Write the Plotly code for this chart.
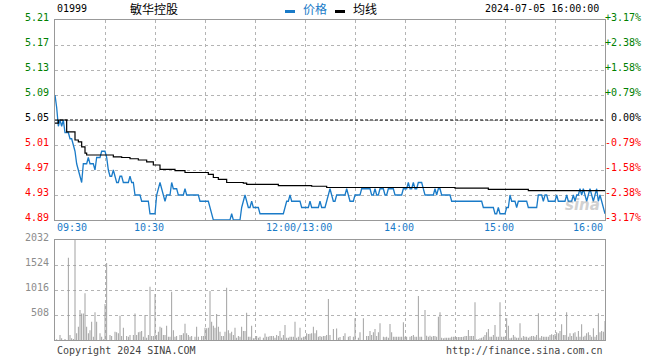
import plotly.graph_objects as go

# ---------------- data ----------------
stock_code = "01999"
stock_name = "敏华控股"
timestamp = "2024-07-05 16:00:00"
prev_close = 5.05

price_ticks = [5.21, 5.17, 5.13, 5.09, 5.05, 5.01, 4.97, 4.93, 4.89]
pct_labels = ["+3.17%", "+2.38%", "+1.58%", "+0.79%", "0.00%", "-0.79%", "-1.58%", "-2.38%", "-3.17%"]
vol_ticks = [2032, 1524, 1016, 508]
time_grid = [0, 30, 60, 90, 120, 150, 180, 210, 240, 270, 300, 330]
time_label_pos = [0, 60, 150, 210, 270, 330]
time_labels = ["09:30", "10:30", "12:00/13:00", "14:00", "15:00", "16:00"]

# one price per trading minute (09:30 .. 12:00, 13:00 .. 16:00)
price = [
    5.09, 5.07, 5.04, 5.05, 5.04, 5.05, 5.03, 5.03, 5.03, 5.02,
    5.02, 5.01, 5.00, 4.98, 4.97, 4.96, 4.95, 4.98, 4.98, 4.98,
    4.99, 4.98, 4.98, 4.98, 4.97, 4.99, 4.99, 4.99, 5.00, 5.00,
    5.00, 4.99, 4.97, 4.96, 4.96, 4.97, 4.96, 4.95, 4.95, 4.96,
    4.96, 4.95, 4.95, 4.95, 4.95, 4.96, 4.95, 4.95, 4.93, 4.93,
    4.93, 4.93, 4.92, 4.92, 4.92, 4.92, 4.92, 4.90, 4.90, 4.90,
    4.90, 4.93, 4.94, 4.95, 4.94, 4.93, 4.92, 4.93, 4.93, 4.93,
    4.95, 4.94, 4.94, 4.94, 4.93, 4.93, 4.93, 4.93, 4.94, 4.93,
    4.93, 4.93, 4.93, 4.93, 4.93, 4.93, 4.93, 4.92, 4.92, 4.92,
    4.92, 4.92, 4.92, 4.91, 4.90, 4.89, 4.89, 4.89, 4.89, 4.89,
    4.89, 4.89, 4.89, 4.89, 4.89, 4.89, 4.90, 4.89, 4.89, 4.89,
    4.89, 4.89, 4.91, 4.92, 4.93, 4.92, 4.91, 4.91, 4.92, 4.91,
    4.91, 4.91, 4.91, 4.90, 4.90, 4.90, 4.90, 4.90, 4.90, 4.90,
    4.90, 4.90, 4.90, 4.90, 4.90, 4.90, 4.90, 4.90, 4.91, 4.92,
    4.92, 4.93, 4.92, 4.92, 4.92, 4.92, 4.92, 4.92, 4.91, 4.91,
    4.91, 4.91, 4.91, 4.92, 4.91, 4.91, 4.91, 4.91, 4.91, 4.92,
    4.91, 4.91, 4.91, 4.92, 4.93, 4.94, 4.93, 4.92, 4.92, 4.93,
    4.93, 4.93, 4.93, 4.93, 4.93, 4.94, 4.93, 4.92, 4.92, 4.92,
    4.93, 4.93, 4.93, 4.93, 4.94, 4.94, 4.94, 4.94, 4.94, 4.94,
    4.93, 4.93, 4.94, 4.93, 4.93, 4.94, 4.94, 4.94, 4.93, 4.93,
    4.94, 4.94, 4.94, 4.94, 4.93, 4.93, 4.93, 4.93, 4.93, 4.94,
    4.94, 4.94, 4.95, 4.94, 4.94, 4.95, 4.94, 4.94, 4.95, 4.95,
    4.95, 4.94, 4.93, 4.93, 4.93, 4.93, 4.93, 4.93, 4.94, 4.93,
    4.94, 4.94, 4.93, 4.93, 4.93, 4.93, 4.93, 4.93, 4.92, 4.92,
    4.92, 4.92, 4.92, 4.92, 4.92, 4.92, 4.92, 4.92, 4.92, 4.92,
    4.92, 4.92, 4.92, 4.92, 4.92, 4.92, 4.92, 4.91, 4.91, 4.91,
    4.91, 4.91, 4.91, 4.91, 4.90, 4.90, 4.91, 4.90, 4.90, 4.90,
    4.90, 4.91, 4.91, 4.93, 4.92, 4.92, 4.92, 4.91, 4.92, 4.92,
    4.92, 4.92, 4.92, 4.92, 4.91, 4.91, 4.91, 4.91, 4.91, 4.91,
    4.93, 4.93, 4.93, 4.92, 4.93, 4.93, 4.92, 4.92, 4.92, 4.92,
    4.92, 4.93, 4.92, 4.92, 4.92, 4.92, 4.92, 4.93, 4.92, 4.92,
    4.92, 4.93, 4.92, 4.93, 4.93, 4.94, 4.93, 4.94, 4.93, 4.92,
    4.93, 4.94, 4.93, 4.92, 4.93, 4.94, 4.92, 4.93, 4.92, 4.91,
    4.90,
]
minutes = list(range(len(price)))

# average price line (minute, value) at the points where it changes
avg_minutes = [0, 2, 6, 7, 11, 12, 14, 16, 18, 19, 29, 35, 40, 45, 50, 55, 59, 63,
               72, 78, 89, 92, 95, 98, 103, 113, 115, 134, 154, 163, 240, 260, 284, 330]
avg_values = [5.045, 5.05, 5.05, 5.031, 5.031, 5.018, 5.015, 5.007, 4.997, 4.994, 4.994,
              4.991, 4.990, 4.988, 4.986, 4.983, 4.978, 4.971, 4.969, 4.966, 4.966, 4.963,
              4.958, 4.955, 4.950, 4.949, 4.947, 4.945, 4.944, 4.942, 4.941, 4.939, 4.937, 4.937]

# volume bars (minute, lots)
vol_minutes = [
    1, 3, 4, 6, 8, 9, 10, 11, 12, 13, 14, 15, 16, 17, 18, 19, 20, 21, 22, 23, 24, 25, 27, 28, 29,
    30, 31, 33, 34, 36, 37, 38, 39, 40, 41, 43, 44, 45, 47, 48, 49, 50, 51, 52, 53, 54, 55, 56,
    57, 58, 59, 60, 61, 62, 63, 64, 65, 66, 67, 68, 69, 70, 71, 72, 73, 75, 76, 77, 78, 79, 80,
    81, 82, 84, 85, 86, 88, 89, 90, 91, 92, 93, 94, 95, 96, 97, 98, 99, 100, 101, 102, 103, 104,
    105, 106, 107, 108, 109, 110, 111, 112, 113, 114, 115, 116, 117, 118, 119, 120, 121, 122,
    123, 125, 126, 127, 128, 129, 130, 131, 132, 133, 134, 135, 136, 137, 138, 139, 140, 141,
    142, 143, 144, 145, 146, 147, 148, 149, 150, 151, 152, 153, 154, 155, 156, 157, 158, 159,
    160, 161, 162, 163, 164, 165,
    167, 169, 170, 171, 173, 174, 176, 177, 179, 180, 182, 183, 185, 187, 188, 189, 190, 191,
    192, 193, 194, 195, 197, 198, 199, 200, 201, 202, 203, 204, 205, 206, 207, 208, 209, 210,
    211, 213, 214, 215, 216, 217, 218, 219, 220, 222, 223, 224, 225, 226, 227, 228, 229, 230,
    231, 232, 233, 234, 235, 236, 237, 238, 239, 240, 241, 242, 243, 244, 245, 246, 247, 248,
    249, 250, 251, 252, 253, 254, 255, 256, 257, 258, 259, 260, 261, 262, 263, 264, 265, 266,
    267, 268, 269, 270, 271, 272, 273, 274, 275, 276, 277, 278, 279, 280, 281, 282, 283, 284,
    285, 286, 287, 288, 289, 290, 291, 292, 293, 294, 295, 296, 297, 298, 299, 300, 301, 302,
    303, 304, 305, 306, 307, 308, 309, 310, 311, 312, 313, 314, 315, 316, 317, 318, 319, 320,
    321, 322, 323, 324, 325, 326, 327, 328, 329, 330,
]
vol_values = [
    14, 100, 34, 20, 1673, 100, 34, 20, 2032, 135, 270, 610, 540, 540, 948, 270, 135, 200, 372, 68, 562, 372, 135, 68, 14,
    731, 1565, 102, 81, 169, 155, 135, 494, 81, 250, 81, 68, 102, 102, 540, 102, 155, 169, 183, 68, 508, 47, 102,
    1084, 81, 81, 935, 102, 169, 270, 250, 102, 102, 290, 68, 68, 982, 200, 68, 81, 102, 102, 135, 330, 135, 102,
    68, 81, 68, 270, 68, 81, 81, 250, 237, 250, 995, 372, 290, 250, 528, 270, 169, 81, 81, 169, 1064, 200,
    135, 169, 102, 250, 47, 81, 68, 270, 183, 183, 555, 68, 68, 290, 34, 34, 81, 47,
    68, 47, 130, 68, 68, 81, 81, 81, 47, 102, 81, 183, 47, 102, 305, 47, 47, 68,
    68, 68, 372, 47, 68, 250, 47, 68, 68, 135, 122, 128, 135, 270, 135, 196, 68, 81,
    68, 81, 81, 102, 833, 102,
    224, 234, 47, 61, 81, 135, 68, 81, 68, 440, 47, 155, 440, 81, 81, 183, 102, 155,
    224, 81, 155, 338, 68, 54, 68, 47, 325, 155, 68, 68, 68, 68, 68, 68, 359, 68,
    68, 68, 81, 102, 68, 68, 894, 68, 68, 610, 88, 68, 88, 68, 81, 81, 68, 474,
    562, 47, 34, 47, 47, 47, 47, 68, 68, 68, 61, 61, 61, 61, 68, 81, 81, 203,
    81, 81, 81, 766, 14, 14, 34, 47, 68, 102, 155, 224, 68, 68, 102, 305, 68, 68,
    766, 68, 68, 68, 440, 291, 34, 47, 102, 68, 47, 47, 338, 47, 81, 68, 68, 47,
    68, 81, 81, 68, 102, 542, 47, 81, 68, 68, 68, 68, 102, 115, 102, 122, 155, 135,
    183, 318, 102, 102, 562, 68, 135, 81, 135, 155, 68, 183, 68, 318, 68, 88, 135, 155,
    102, 68, 237, 68, 102, 542, 155, 183, 169, 386,
]

# ---------------- styling ----------------
BLUE = "#1a7bc8"
GREEN = "#008000"
RED = "#ff0000"
GRID = "#b4b4b4"
FRAME = "#999999"
MONO = "DejaVu Sans Mono"
CJK = "Noto Sans CJK SC"

# pixel geometry helpers (plot area = 55..605 x, 20..340 y)
L, R, T, B = 55, 605, 20, 340
def px(xp):
    return (xp - L) / (R - L)
def py(yp):
    return (B - yp) / (B - T)

fig = go.Figure()
fig.add_trace(go.Scatter(x=minutes, y=price, mode="lines",
                         line=dict(color=BLUE, width=1.3), xaxis="x", yaxis="y",
                         hoverinfo="skip"))
fig.add_trace(go.Scatter(x=avg_minutes, y=avg_values, mode="lines",
                         line=dict(color="black", width=1.2, shape="hv"), xaxis="x", yaxis="y",
                         hoverinfo="skip"))
fig.add_trace(go.Bar(x=vol_minutes, y=vol_values, width=0.55,
                     marker=dict(color="#999999", line=dict(width=0)),
                     xaxis="x2", yaxis="y2", hoverinfo="skip"))

axis_common = dict(showline=True, mirror=True, linecolor=FRAME, linewidth=1,
                   showgrid=True, gridcolor=GRID, griddash="dot", gridwidth=1,
                   zeroline=False, ticks="", showticklabels=False, fixedrange=True)

fig.update_layout(
    width=660, height=360,
    margin=dict(l=L, r=660 - R, t=T, b=360 - B),
    paper_bgcolor="white", plot_bgcolor="white",
    showlegend=False,
    xaxis=dict(domain=[0, 1], anchor="y", range=[0, 330], tickvals=time_grid, **axis_common),
    yaxis=dict(domain=[py(220), 1], anchor="x", range=[min(price_ticks), max(price_ticks)],
               tickvals=price_ticks, **axis_common),
    xaxis2=dict(domain=[0, 1], anchor="y2", range=[0, 330], tickvals=time_grid, **axis_common),
    yaxis2=dict(domain=[0, py(240)], anchor="x2", range=[0, max(vol_ticks)],
                tickvals=vol_ticks, **axis_common),
)

# previous close dashed line
fig.add_shape(type="line", xref="x", yref="y", x0=0, x1=330, y0=prev_close, y1=prev_close,
              line=dict(color="black", width=1, dash="3px,2px"))

ann = []
# left price labels and right percent labels
for p, pct in zip(price_ticks, pct_labels):
    if abs(p - prev_close) < 1e-9:
        c = "black"
    elif p > prev_close:
        c = GREEN
    else:
        c = RED
    ann.append(dict(x=0, y=p, xref="paper", yref="y", text=f"{p:.2f}", showarrow=False,
                    xanchor="right", yanchor="middle", xshift=-4, yshift=3,
                    font=dict(family=MONO, size=10, color=c)))
    ann.append(dict(x=1, y=p, xref="paper", yref="y", text=pct, showarrow=False,
                    xanchor="right", yanchor="middle", xshift=38, yshift=3,
                    font=dict(family=MONO, size=10, color=c)))
# volume labels
for v in vol_ticks:
    ann.append(dict(x=0, y=v, xref="paper", yref="y2", text=str(v), showarrow=False,
                    xanchor="right", yanchor="middle", xshift=-4, yshift=3,
                    font=dict(family=MONO, size=10, color="#8c8c8c")))
# time labels
for m, t in zip(time_label_pos, time_labels):
    if m == 0:
        xa, xs = "left", 0
    elif m == 330:
        xa, xs = "right", 0
    else:
        xa, xs = "center", -6
    ann.append(dict(x=m, y=py(227), xref="x", yref="paper", text=t, showarrow=False,
                    xanchor=xa, yanchor="middle", xshift=xs,
                    font=dict(family=MONO, size=10, color=BLUE)))
# header
ann.append(dict(x=px(55), y=py(9), xref="paper", yref="paper", text=stock_code, showarrow=False,
                xanchor="left", yanchor="middle", font=dict(family=MONO, size=10, color="black")))
ann.append(dict(x=px(154), y=py(9), xref="paper", yref="paper", text=stock_name, showarrow=False,
                xanchor="center", yanchor="middle", font=dict(family=CJK, size=12, color="black")))
ann.append(dict(x=px(301), y=py(9), xref="paper", yref="paper", text="价格", showarrow=False,
                xanchor="left", yanchor="middle", font=dict(family=CJK, size=12, color=BLUE)))
ann.append(dict(x=px(351), y=py(9), xref="paper", yref="paper", text="均线", showarrow=False,
                xanchor="left", yanchor="middle", font=dict(family=CJK, size=12, color="black")))
ann.append(dict(x=px(601), y=py(9), xref="paper", yref="paper", text=timestamp, showarrow=False,
                xanchor="right", yanchor="middle", font=dict(family=MONO, size=10, color="black")))
# footer
ann.append(dict(x=px(55), y=py(350), xref="paper", yref="paper", text="Copyright 2024 SINA.COM",
                showarrow=False, xanchor="left", yanchor="middle",
                font=dict(family=MONO, size=10, color="#444444")))
ann.append(dict(x=px(605), y=py(350), xref="paper", yref="paper", text="http://finance.sina.com.cn",
                showarrow=False, xanchor="right", yanchor="middle",
                font=dict(family=MONO, size=10, color="#444444")))
# watermark
ann.append(dict(x=px(582), y=py(205), xref="paper", yref="paper", text="<b><i>sina</i></b>",
                showarrow=False, xanchor="center", yanchor="middle", opacity=0.45,
                font=dict(family="DejaVu Sans", size=15, color="#9a9a9a")))
fig.update_layout(annotations=ann)

# legend swatches in the header
fig.add_shape(type="rect", xref="paper", yref="paper", x0=px(285), x1=px(295), y0=py(13), y1=py(10),
              fillcolor=BLUE, line=dict(width=0))
fig.add_shape(type="rect", xref="paper", yref="paper", x0=px(335), x1=px(345), y0=py(13), y1=py(10),
              fillcolor="black", line=dict(width=0))

fig.write_html("out.html",
               config={"displayModeBar": False, "staticPlot": True},
               post_script="document.body.style.margin='0px';document.body.style.padding='0px';")
